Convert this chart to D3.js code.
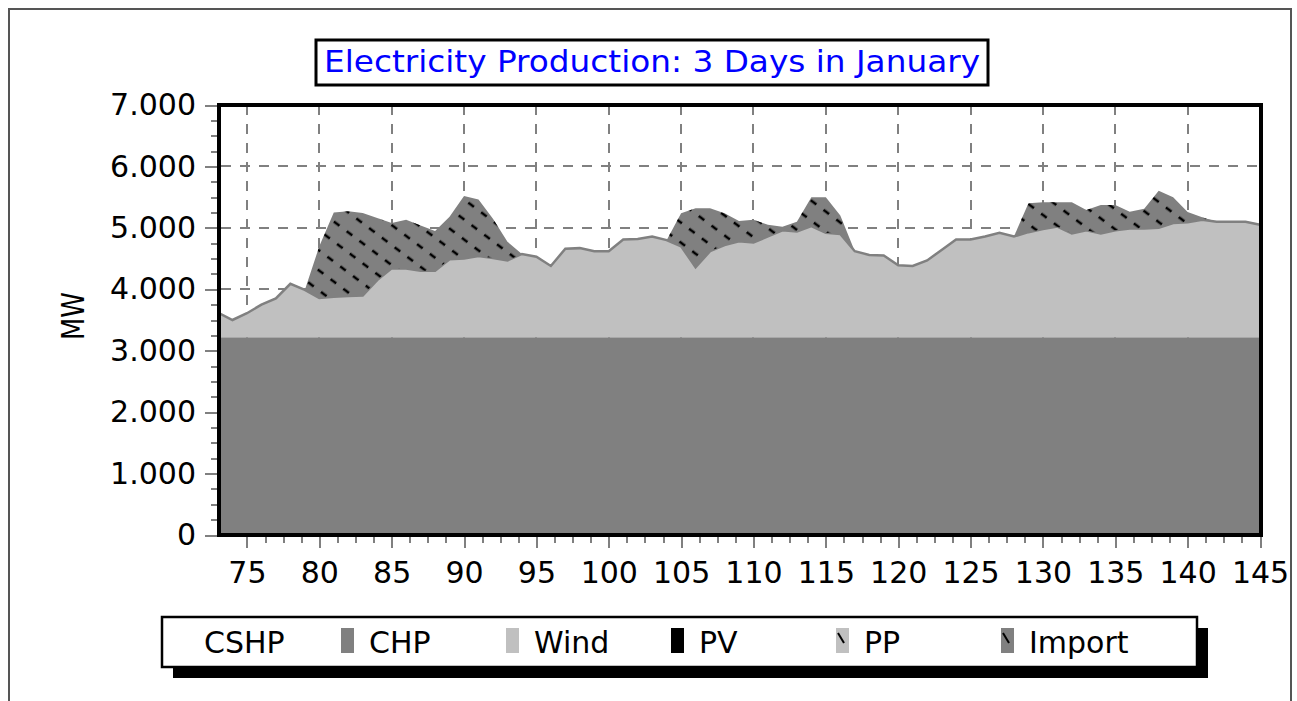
<!DOCTYPE html>
<html>
<head>
<meta charset="utf-8">
<script src="https://cdn.jsdelivr.net/npm/d3@7"></script>
<style>
  body { margin: 0; background: #fff; }
  svg { display: block; font-family: "DejaVu Sans", sans-serif; }
</style>
</head>
<body>
<svg id="chart" width="1297" height="701"></svg>
<script>
// hours on the x axis (3 days in january)
const hours = [73, 74, 75, 76, 77, 78, 79, 80, 81, 82, 83, 84, 85, 86, 87, 88, 89, 90,
  91, 92, 93, 94, 95, 96, 97, 98, 99, 100, 101, 102, 103, 104, 105, 106, 107, 108, 109,
  110, 111, 112, 113, 114, 115, 116, 117, 118, 119, 120, 121, 122, 123, 124, 125, 126,
  127, 128, 129, 130, 131, 132, 133, 134, 135, 136, 137, 138, 139, 140, 141, 142, 143,
  144, 145]

// CHP runs flat the whole period
const chpLevel = 3220

// MW
const wind = [400, 280, 390, 530, 630, 870, 770, 640, 660, 670, 680, 930, 1120, 1120,
  1080, 1080, 1270, 1280, 1320, 1290, 1250, 1355, 1310, 1160, 1440, 1450, 1400, 1400,
  1590, 1600, 1640, 1580, 1480, 1140, 1400, 1500, 1560, 1540, 1640, 1740, 1720, 1810,
  1700, 1680, 1400, 1340, 1330, 1170, 1160, 1250, 1420, 1590, 1590, 1640, 1700, 1640,
  1710, 1760, 1800, 1690, 1740, 1690, 1740, 1770, 1770, 1780, 1860, 1870, 1910, 1880,
  1880, 1880, 1830]

const imports = [0, 0, 0, 0, 0, 0, 0, 840, 1370, 1380, 1340, 1010, 740, 790, 740, 650,
  690, 1020, 920, 640, 305, 0, 0, 0, 0, 0, 0, 0, 0, 0, 0, 0, 536, 960, 700, 516, 330,
  370, 190, 60, 160, 470, 580, 300, 0, 0, 0, 0, 0, 0, 0, 0, 0, 0, 0, 0, 470, 436, 396,
  506, 330, 462, 412, 273, 320, 605, 420, 170, 42, 0, 0, 0, 0]

const legendNames = ['CSHP', 'CHP', 'Wind', 'PV', 'PP', 'Import']
const xTicks = [75, 80, 85, 90, 95, 100, 105, 110, 115, 120, 125, 130, 135, 140, 145]
const yTicks = [0, 1000, 2000, 3000, 4000, 5000, 6000, 7000]

const colors = {
  CSHP: '#ffffff', CHP: '#808080', Wind: '#c0c0c0',
  PV: '#000000', PP: '#c0c0c0', Import: '#808080'
}
const hatched = ['PP', 'Import']

const svg = d3.select('#chart')

const x = d3.scaleLinear().domain([73, 145]).range([218, 1260])
const y = d3.scaleLinear().domain([0, 7000]).range([535, 105])

// dots as thousands separator
const fmt = d3.formatLocale({ decimal: ',', thousands: '.', grouping: [3], currency: ['', ''] }).format(',')

let defs = svg.append('defs')
defs.append('clipPath').attr('id', 'plotclip')
  .append('rect').attr('x', 219).attr('y', 105).attr('width', 1042).attr('height', 430)

let hatch = defs.append('pattern')
  .attr('id', 'hatch')
  .attr('patternUnits', 'userSpaceOnUse')
  .attr('width', 16).attr('height', 16)
  .attr('patternTransform', 'rotate(37)')
hatch.append('line')
  .attr('x1', 0).attr('y1', 8).attr('x2', 7).attr('y2', 8)
  .attr('stroke', '#000').attr('stroke-width', 2.6)

// outer frame
svg.append('path')
  .attr('d', 'M9,701 L9,9 L1291,9 L1291,701')
  .attr('fill', 'none').attr('stroke', '#555').attr('stroke-width', 2)

// title box
svg.append('rect')
  .attr('x', 316).attr('y', 40).attr('width', 672).attr('height', 45)
  .attr('fill', '#fff').attr('stroke', '#000').attr('stroke-width', 3)
svg.append('text')
  .attr('x', 652).attr('y', 72)
  .attr('text-anchor', 'middle')
  .attr('font-size', 30)
  .attr('fill', '#0000ff')
  .attr('textLength', 656).attr('lengthAdjust', 'spacingAndGlyphs')
  .text('Electricity Production: 3 Days in January')

// grid
let grid = svg.append('g').attr('stroke', '#808080').attr('stroke-width', 2)
  .attr('stroke-dasharray', '10,9').attr('shape-rendering', 'crispEdges')
grid.selectAll('.hgrid')
  .data(yTicks.filter(v => v > 0 && v < 7000))
  .enter().append('line')
  .attr('x1', 221).attr('x2', 1259)
  .attr('y1', d => y(d)).attr('y2', d => y(d))
grid.selectAll('.vgrid')
  .data(xTicks.filter(v => v < 145))
  .enter().append('line')
  .attr('x1', d => x(d)).attr('x2', d => x(d))
  .attr('y1', 105).attr('y2', 533)

// stacked areas
const rows = hours.map((h, i) => ({ hour: h, CHP: chpLevel, Wind: wind[i], Import: imports[i] }))
const series = d3.stack().keys(['CHP', 'Wind', 'Import'])(rows)

const area = d3.area()
  .x(d => x(d.data.hour))
  .y0(d => y(d[0]))
  .y1(d => y(d[1]))

let plot = svg.append('g').attr('clip-path', 'url(#plotclip)')

plot.append('path').datum(series[0])
  .attr('d', area).attr('fill', colors.CHP)
plot.append('path').datum(series[1])
  .attr('d', area).attr('fill', colors.Wind)
plot.append('path').datum(series[1])
  .attr('d', d3.line().x(d => x(d.data.hour)).y(d => y(d[1])))
  .attr('fill', 'none').attr('stroke', '#808080').attr('stroke-width', 2.5)
plot.append('path').datum(series[2])
  .attr('d', area).attr('fill', colors.Import)
plot.append('path').datum(series[2])
  .attr('d', area).attr('fill', 'url(#hatch)')

// plot frame
svg.append('rect')
  .attr('x', 219).attr('y', 105).attr('width', 1042).attr('height', 430)
  .attr('fill', 'none').attr('stroke', '#000').attr('stroke-width', 4)

// y axis, major + minor
let yMinor = svg.append('g').attr('transform', 'translate(217,0)')
  .call(d3.axisLeft(y).tickValues(d3.range(0, 7001, 250)).tickSize(6).tickFormat(''))
let yAxis = svg.append('g').attr('transform', 'translate(217,0)')
  .call(d3.axisLeft(y).tickValues(yTicks).tickSize(12).tickPadding(9).tickFormat(fmt))

// x axis, major + minor
let xMinor = svg.append('g').attr('transform', 'translate(0,537)')
  .call(d3.axisBottom(x).tickValues(d3.range(75, 145.1, 1.25)).tickSize(6).tickFormat(''))
let xAxis = svg.append('g').attr('transform', 'translate(0,537)')
  .call(d3.axisBottom(x).tickValues(xTicks).tickSize(11).tickPadding(14))

;[yMinor, yAxis, xMinor, xAxis].forEach(g => {
  g.select('.domain').remove()
  g.selectAll('line').attr('stroke', '#808080').attr('stroke-width', 2).attr('shape-rendering', 'crispEdges')
  g.selectAll('text').attr('font-size', 30).attr('font-family', '"DejaVu Sans", sans-serif').attr('fill', '#000')
})

svg.append('text')
  .attr('transform', 'translate(84,316) rotate(-90)')
  .attr('text-anchor', 'middle')
  .attr('font-size', 32)
  .attr('textLength', 48).attr('lengthAdjust', 'spacingAndGlyphs')
  .text('MW')

// legend with drop shadow
svg.append('rect')
  .attr('x', 173).attr('y', 628).attr('width', 1035).attr('height', 50)
  .attr('fill', '#000')
svg.append('rect')
  .attr('x', 162).attr('y', 617).attr('width', 1035).attr('height', 50)
  .attr('fill', '#fff').attr('stroke', '#000').attr('stroke-width', 2.5)

let items = svg.selectAll('.legend-item')
  .data(legendNames)
  .enter().append('g')
  .attr('class', 'legend-item')
  .attr('transform', (d, i) => `translate(${176 + i * 165},628)`)

items.append('rect')
  .attr('width', 13).attr('height', 25)
  .attr('fill', d => colors[d])
items.filter(d => hatched.includes(d)).append('line')
  .attr('x1', 2).attr('y1', 5).attr('x2', 8).attr('y2', 15)
  .attr('stroke', '#000').attr('stroke-width', 2)
items.append('text')
  .attr('x', 28).attr('y', 25)
  .attr('font-size', 30)
  .text(d => d)
</script>
</body>
</html>
